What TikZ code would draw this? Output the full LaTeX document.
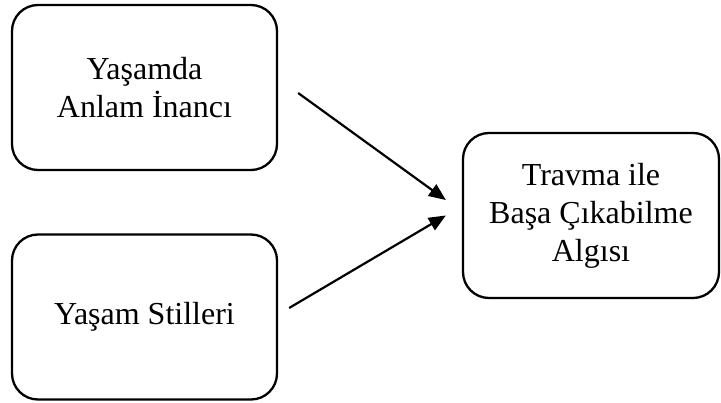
\documentclass[tikz,border=0pt]{standalone}
\usepackage{fontspec}
\setmainfont{Liberation Serif}
\usetikzlibrary{arrows.meta}
\tikzset{
  varbox/.style={draw, line width=2.3pt, rounded corners=26pt,
    minimum width=#1, minimum height=165pt, align=center,
    font=\fontsize{32}{38}\selectfont},
  pathln/.style={-{Triangle[length=17pt,width=14pt]}, line width=2.2pt},
}

\begin{document}
\begin{tikzpicture}[x=1pt, y=-1pt]
    \useasboundingbox (0,0) rectangle (721,403);
    \node[varbox=265pt] (anlam) at (144.5,87.5) {Yaşamda\\ Anlam İnancı};
    \node[varbox=265pt] (stil) at (144.5,317) {Yaşam Stilleri};
    \node[varbox=256pt] (travma) at (591,215.5) {Travma ile\\ Başa Çıkabilme\\ Algısı};
    \draw[pathln] ([xshift=20pt,yshift=-5.5pt]anlam.east) -- ([xshift=-16pt,yshift=15.5pt]travma.west);
    \draw[pathln] ([xshift=11pt,yshift=9pt]stil.east) -- ([xshift=-16pt]travma.west);
  \end{tikzpicture}
\end{document}
